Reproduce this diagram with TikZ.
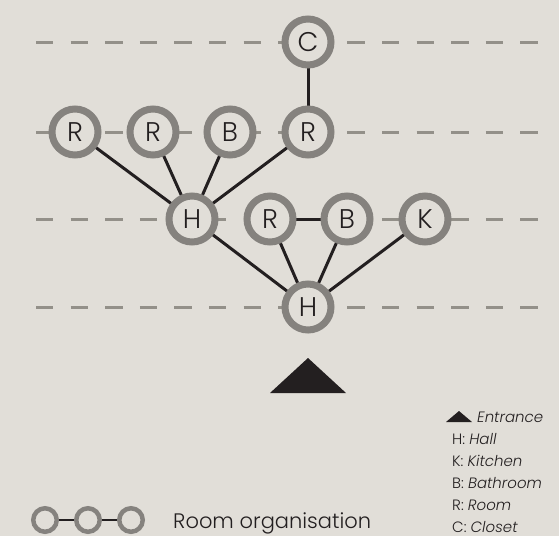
\documentclass[tikz,border=0pt]{standalone}
\usepackage{fontspec}
\setmainfont{Poppins}[UprightFont={* Light},ItalicFont={* Light Italic}]
\pgfdeclarelayer{back}
\pgfdeclarelayer{bg}
\pgfsetlayers{back,bg,main}
\definecolor{paper}{HTML}{E1DED8}
\definecolor{ring}{HTML}{85827E}
\definecolor{dashc}{HTML}{939089}
\definecolor{ink}{HTML}{231F20}
\tikzset{
  room/.style={circle,draw=ring,line width=7pt,fill=paper,minimum size=46pt,inner sep=0pt,outer sep=0pt,text=ink,font=\fontsize{27}{27}\selectfont},
  mini/.style={circle,draw=ring,line width=4.5pt,fill=paper,minimum size=23.5pt,inner sep=0pt,outer sep=0pt},
  link/.style={draw=ink,line width=3pt},
  minilink/.style={draw=ink,line width=2.5pt},
  floorline/.style={draw=dashc,line width=3pt,dash pattern=on 17.3pt off 17.3pt},
  legtext/.style={text=ink,font=\fontsize{15}{15}\selectfont,inner sep=0pt,anchor=base west},
}
\begin{document}
\begin{tikzpicture}[x=1pt,y=-1pt]
\begin{pgfonlayer}{back}
\fill[paper] (0,0) rectangle (559,536);
\end{pgfonlayer}
\useasboundingbox (0,0) rectangle (559,536);
% floor lines
\begin{pgfonlayer}{back}
\foreach \yy in {42,132,219,307}{
  \draw[floorline] (36,\yy) -- (538,\yy);
}
\end{pgfonlayer}
% nodes
\node[room] (C)  at (308,42) {C};
\node[room] (R1) at (75,132) {R};
\node[room] (R2) at (153,132) {R};
\node[room] (B1) at (230,132) {B};
\node[room] (R4) at (308,132) {R};
\node[room] (H1) at (192,219) {H};
\node[room] (R5) at (270,219) {R};
\node[room] (B2) at (347,219) {B};
\node[room] (K)  at (425,219) {K};
\node[room] (H2) at (308,307) {H};
\begin{pgfonlayer}{bg}
\draw[link] (C) -- (R4);
\draw[link] (R1) -- (H1);
\draw[link] (R2) -- (H1);
\draw[link] (B1) -- (H1);
\draw[link] (R4) -- (H1);
\draw[link] (H1) -- (H2);
\draw[link] (R5) -- (H2);
\draw[link] (B2) -- (H2);
\draw[link] (K) -- (H2);
\draw[link] (R5) -- (B2);
\end{pgfonlayer}
% entrance
\fill[ink] (308,358) -- (346,393) -- (270,393) -- cycle;
% legend left
\node[mini] (m1) at (45,520) {};
\node[mini] (m2) at (88,520) {};
\node[mini] (m3) at (131,520) {};
\begin{pgfonlayer}{bg}
\draw[minilink] (m1) -- (m2);
\draw[minilink] (m2) -- (m3);
\end{pgfonlayer}
\node[text=ink,font=\fontsize{21}{21}\selectfont,inner sep=0pt,anchor=base west] (org) at (173,528) {Room organisation};
% legend right
\fill[ink] (459,411) -- (472,422) -- (446,422) -- cycle;
\node[legtext] (le) at (477,422) {\itshape Entrance};
\node[legtext] (lh) at (452,444) {H: \itshape Hall};
\node[legtext] (lk) at (452,466) {K: \itshape Kitchen};
\node[legtext] (lb) at (452,488) {B: \itshape Bathroom};
\node[legtext] (lr) at (452,510) {R: \itshape Room};
\node[legtext] (lc) at (452,532) {C: \itshape Closet};
\end{tikzpicture}
\end{document}
